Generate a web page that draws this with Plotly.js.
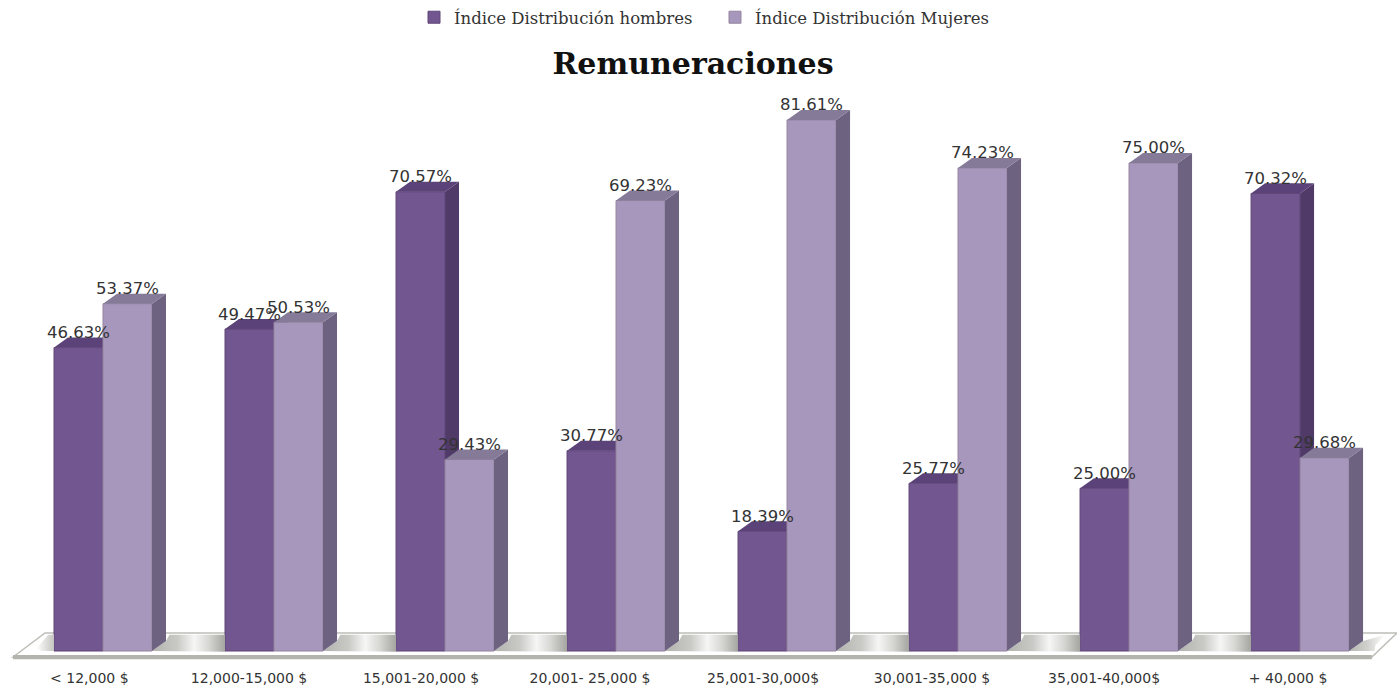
<!DOCTYPE html>
<html><head><meta charset="utf-8">
<script src="https://cdn.plot.ly/plotly-3.0.1.min.js"></script>
<style>html,body{margin:0;padding:0;background:#fff}#c{width:1397px;height:687px}</style>
</head><body><div id="c"></div>
<script>
const categories = ["< 12,000 $","12,000-15,000 $","15,001-20,000 $","20,001- 25,000 $","25,001-30,000$","30,001-35,000 $","35,001-40,000$","+ 40,000 $"];
const hombres = [46.63,49.47,70.57,30.77,18.39,25.77,25.00,70.32];
const mujeres = [53.37,50.53,29.43,69.23,81.61,74.23,75.00,29.68];
const labelShift = [-0.08,-0.146,-0.14,-0.152,-0.14,-0.152,-0.146,-0.07];

const barW = 0.2865, dx = 0.082, dy = 1.55;
const colH = {front:'#72568f', side:'#4f3a68', top:'#5b4278'};
const colM = {front:'#a797bd', side:'#6d6280', top:'#857a98'};
const lab = {size:16.5, color:'#333333', family:'"DejaVu Sans", sans-serif'};

function poly(xs, ys, fill){
  return {type:'scatter', mode:'lines', x:xs.concat(xs[0]), y:ys.concat(ys[0]), fill:'toself',
    fillcolor:fill, line:{width:0}, hoverinfo:'skip', showlegend:false};
}
function path(xs, ys){ return 'M'+xs.map((x,i)=>x+','+ys[i]).join(' L')+' Z'; }
function shapePoly(xs, ys, fill, lineCol, w){
  return {type:'path', xref:'x', yref:'y', layer:'below', path:path(xs,ys), fillcolor:fill,
    line:{color:lineCol||fill, width:w===undefined?0:w}};
}

const shapes = [];
// floor
const fl = {l:-0.526, bl:-0.339, r:7.42, br:7.567, f:-0.92, b:2.77};
shapes.push(shapePoly([fl.l,fl.bl,fl.br,fl.r],[fl.f,fl.b,fl.b,fl.f],'#ffffff','#bdbdb8',1.5));
shapes.push(shapePoly([fl.l,fl.r,fl.r,fl.l],[-0.62,-0.62,-1.25,-1.25],'#b4b4ae','#b4b4ae',0));
// hombres side and top sit behind the mujeres bars
categories.forEach((c,i)=>{
  const l=i-barW, r=i, v=hombres[i];
  shapes.push(shapePoly([r,r+dx,r+dx,r],[0,dy,v+dy,v],colH.side));
  shapes.push(shapePoly([l,l+dx,r+dx,r],[v,v+dy,v+dy,v],colH.top));
});

const traces = [
  {type:'bar', name:'Índice Distribución hombres', x:categories.map((c,i)=>i), y:hombres,
   marker:{color:colH.front, line:{color:'#5f4679', width:1}}, hoverinfo:'y'},
  {type:'bar', name:'Índice Distribución Mujeres', x:categories.map((c,i)=>i), y:mujeres,
   marker:{color:colM.front, line:{color:'#95859f', width:1}}, hoverinfo:'y'}
];
// floor shadows between bars
function shade(s, scale){ s.fillgradient = {type:'horizontal', colorscale:scale}; return s; }
const gapScale = [[0,'#b2b2ae'],[0.35,'#c9c9c6'],[0.58,'#f6f6f6'],[0.78,'#d6d6d3'],[1,'#a4a4a0']];
categories.forEach((c,i)=>{
  if(i<7) traces.push(shade(poly([i+barW,i+barW+dx,i+barW+dx+0.02,i+1-barW,i+1-barW,i+barW+0.3],[0,dy,2.5,2.5,-0.1,-0.1],'#bbb'), gapScale));
});
// floor shadows at the two ends
traces.push(shade(poly([-0.39,-0.32,-barW,-barW,-0.36],[0.4,2.5,2.5,0,0],'#ccc'), [[0,'#ffffff'],[1,'#c4c4c0']]));
traces.push(shade(poly([7+barW,7+barW+dx,7.5,7.44,7+barW+0.15],[0,dy,2.5,0.9,0],'#ccc'), [[0,'#b5b5b1'],[0.5,'#d0d0cd'],[1,'#ffffff']]));
// mujeres side and top
categories.forEach((c,i)=>{
  const l=i, r=i+barW, v=mujeres[i];
  traces.push(poly([r,r+dx,r+dx,r],[0,dy,v+dy,v],colM.side));
  traces.push(poly([l,l+dx,r+dx,r],[v,v+dy,v+dy,v],colM.top));
});
// data labels
traces.push({type:'scatter', mode:'text', x:categories.map((c,i)=>i-barW/2), y:hombres.map(v=>v+2.1),
  text:hombres.map(v=>v.toFixed(2)+'%'), textposition:'middle center', textfont:lab, showlegend:false, hoverinfo:'skip'});
traces.push({type:'scatter', mode:'text', x:categories.map((c,i)=>i+barW/2), y:mujeres.map(v=>v+2.1),
  text:mujeres.map(v=>v.toFixed(2)+'%'), textposition:'middle center', textfont:lab, showlegend:false, hoverinfo:'skip'});

const layout = {
  width:1397, height:687, margin:{l:0,r:0,t:0,b:27,pad:0},
  paper_bgcolor:'#fff', plot_bgcolor:'#fff',
  barmode:'group', bargap:1-2*barW, bargroupgap:0, showlegend:true,
  title:{text:'<b>Remuneraciones</b>', x:693/1397, xanchor:'center', y:1-63/687, yanchor:'middle',
    font:{family:'"DejaVu Serif", serif', size:30, color:'#111'}},
  legend:{orientation:'h', x:414/1397, xanchor:'left', y:1, yanchor:'top', traceorder:'normal',
    entrywidth:256, entrywidthmode:'pixels',
    font:{family:'"DejaVu Serif", serif', size:16.5, color:'#333'}, bgcolor:'rgba(0,0,0,0)'},
  xaxis:{range:[-0.6023,7.567], tickvals:categories.map((c,i)=>i+labelShift[i]), ticktext:categories,
    showgrid:false, zeroline:false, showline:false, ticks:'outside', ticklen:5, tickcolor:'rgba(0,0,0,0)', tickangle:0, fixedrange:true,
    tickfont:{family:'"DejaVu Sans", sans-serif', size:14, color:'#333'}},
  yaxis:{range:[-1.38,100.05], showticklabels:false, showgrid:false, zeroline:false, showline:false, ticks:'', fixedrange:true},
  shapes:shapes, hovermode:'closest'
};
Plotly.newPlot('c', traces, layout, {displayModeBar:false, responsive:false});
</script></body></html>
